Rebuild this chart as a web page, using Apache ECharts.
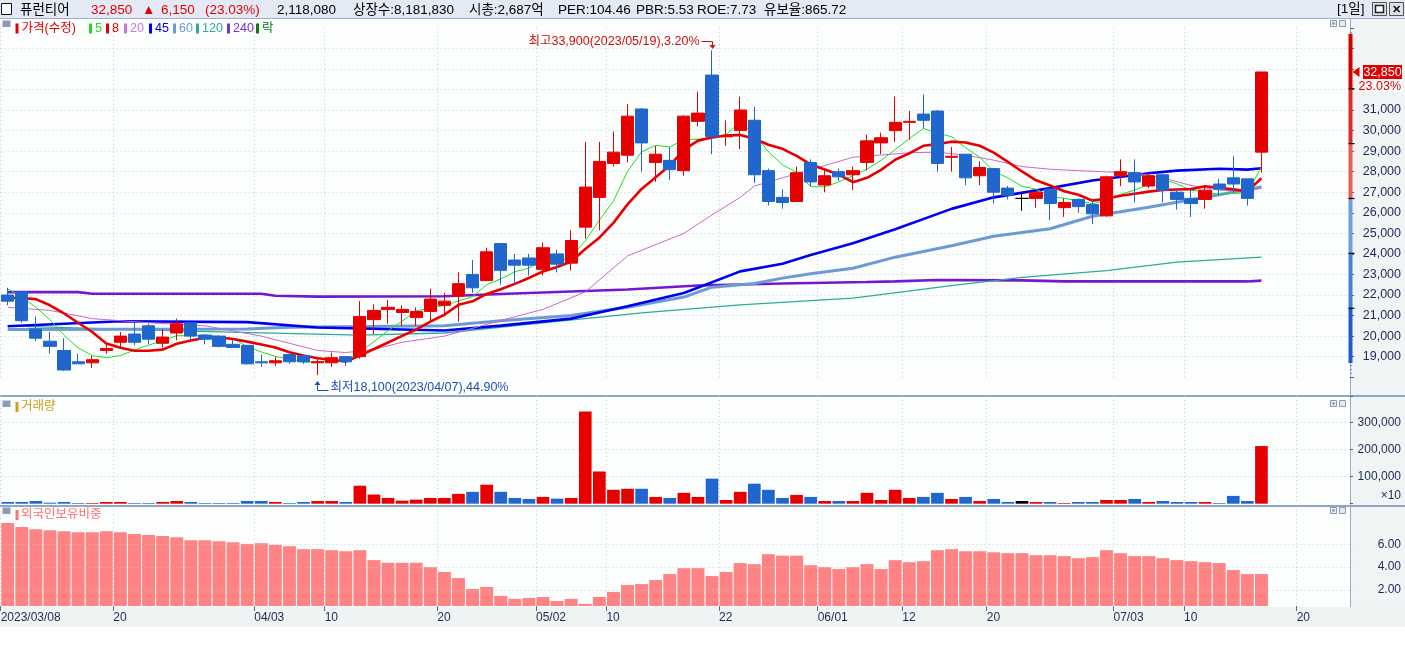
<!DOCTYPE html>
<html><head><meta charset="utf-8">
<script src="https://cdn.jsdelivr.net/npm/echarts/dist/echarts.min.js"></script>
<style>
html,body{margin:0;padding:0;background:#fff;width:1405px;height:648px;overflow:hidden}
.bg{position:absolute;box-sizing:border-box}
#chart{position:absolute;left:0;top:0;width:1405px;height:648px}
</style></head><body>
<div class="bg" style="left:0;top:0;width:1405px;height:19px;background:#E3EAF6;border-bottom:1px solid #9DAECB"></div>
<div class="bg" style="left:0;top:19px;width:1350px;height:376px;background:#FCFEFE"></div>
<div class="bg" style="left:1350px;top:19px;width:55px;height:588px;background:#F0F4F4"></div>
<div class="bg" style="left:0;top:395px;width:1405px;height:2px;background:#8FA6C6"></div>
<div class="bg" style="left:0;top:397px;width:1350px;height:108px;background:#FCFEFE"></div>
<div class="bg" style="left:0;top:505px;width:1405px;height:2px;background:#8FA6C6"></div>
<div class="bg" style="left:0;top:507px;width:1350px;height:99px;background:#FCFEFE"></div>
<div class="bg" style="left:0;top:607px;width:1405px;height:20px;background:#EEF3F3"></div>
<div class="bg" style="left:1350px;top:19px;width:1px;height:588px;background:#9AAAC4"></div>
<div id="chart"></div>
<script>
// ---------- DATA ----------
const dates = ['03/08','03/09','03/10','03/13','03/14','03/15','03/16','03/17','03/20','03/21','03/22','03/23','03/24','03/27','03/28','03/29','03/30','03/31',
'04/03','04/04','04/05','04/06','04/07','04/10','04/11','04/12','04/13','04/14','04/17','04/18','04/19','04/20','04/21','04/24','04/25','04/26','04/27','04/28',
'05/02','05/03','05/04','05/08','05/09','05/10','05/11','05/12','05/15','05/16','05/17','05/18','05/19','05/22','05/23','05/24','05/25','05/26','05/30','05/31',
'06/01','06/02','06/05','06/07','06/08','06/09','06/12','06/13','06/14','06/15','06/16','06/19','06/20','06/21','06/22','06/23','06/26','06/27','06/28','06/29','06/30',
'07/03','07/04','07/05','07/06','07/07','07/10','07/11','07/12','07/13','07/14','07/17',
'07/18','07/19','07/20','07/21','07/24','07/25'];
const xTickDates = ['03/08','03/20','04/03','04/10','04/20','05/02','05/10','05/22','06/01','06/12','06/20','07/03','07/10','07/20'];
const xTickLabels = ['2023/03/08','20','04/03','10','20','05/02','10','22','06/01','12','20','07/03','10','20'];

const opens = [22000,22150,20350,19750,19300,18750,18700,19300,19700,20100,
20500,19650,20150,20650,20050,20000,19600,19550,18750,18700,
19100,19050,18700,18700,19000,19000,20800,21300,21150,20900,
21200,21500,21950,23000,22700,24500,23700,23800,23250,24000,
23550,25300,26750,28400,28800,31050,28450,28550,28050,30450,
32700,29700,30000,30500,28050,26750,26550,28450,27350,28000,
27850,28450,29400,30000,30400,30800,30950,28700,28850,27800,
28150,27200,26700,26700,27150,26250,26650,26400,25850,27800,
27950,27300,27850,27000,26700,26650,27400,27700,27650,28950];
const highs = [22350,22150,20950,20200,19900,19150,19050,19600,20200,20750,
20600,20350,20850,20650,20100,20050,19850,19550,19100,19000,
19150,19050,18950,19200,19000,21700,21550,21750,21500,21400,
22300,22100,23100,23700,24300,24500,24000,24000,24550,24200,
25150,29450,29450,29950,31300,31100,29250,29200,30750,31900,
33900,30500,31650,31150,28150,27150,28250,28600,28150,28150,
28250,29800,29900,31650,30950,31750,31000,29200,28850,28500,
28150,27300,26950,27000,27300,26700,26700,26700,27800,28600,
28600,27900,27900,27200,27100,27250,27650,28750,27650,32850];
const lows = [21500,20650,19750,19150,18300,18650,18450,19150,19450,19550,
19600,19450,19800,19800,19600,19450,19450,18600,18500,18550,
18650,18650,18100,18500,18550,18900,20100,20600,20500,20500,
20700,21000,20700,22100,22700,22500,22500,22950,22950,23100,
23200,24750,25150,28250,28450,28000,27500,27600,27800,30200,
28850,29250,29100,27450,26350,26200,26550,27300,27000,27550,
27100,28050,28850,29450,29550,30100,28000,28000,27350,27350,
26450,26650,26100,26250,25650,25800,26000,25450,25800,27300,
26500,27200,26500,26150,25800,26200,26850,27000,26350,27950];
const closes = [21700,20750,19900,19500,18350,18650,18850,19400,20000,19700,
19850,19950,20600,20000,19850,19500,19450,18650,18700,18800,
18750,18750,18750,18950,18750,20950,21250,21400,21300,21200,
21800,21700,22550,22350,24100,23200,23450,23450,24300,23500,
24650,27250,28500,28950,30700,29400,28850,28100,30700,30850,
29700,29750,31000,27850,26550,26500,27950,27500,27800,27750,
28050,29500,29650,30400,30450,30500,28400,28750,27700,28200,
27000,26850,26700,27000,26450,26500,26300,25950,27750,28000,
27500,27800,27100,26650,26450,27100,27150,27400,26700,32850];
const volumes = [6250,6250,10000,3750,6250,2500,2500,6250,6250,2500,
2500,6250,10000,6250,2500,2500,2500,10000,10000,6250,
2500,6250,10000,10000,6250,66250,33750,21250,11250,15000,
21250,21250,36250,43750,70000,43750,21250,17500,25000,18750,
21250,340000,118750,51250,55000,55000,25000,21250,40000,25000,
92500,13750,43750,73750,51250,21250,32500,25000,10000,10000,
10000,40000,13750,51250,21250,25000,40000,17500,25000,10000,
17500,6250,10000,6250,6250,2500,6250,6250,13750,13750,
17500,6250,10000,6250,6250,6250,2500,28750,10000,212500];
const foreignRatio = [7.85,7.51,7.30,7.22,7.13,7.04,7.04,7.13,7.04,6.90,
6.81,6.72,6.61,6.35,6.35,6.26,6.17,6.03,6.09,5.94,
5.83,5.57,5.57,5.48,5.39,5.48,4.61,4.38,4.38,4.38,
4.00,3.57,3.04,2.09,2.26,1.48,1.22,1.30,1.39,1.04,
1.22,0.78,1.39,1.83,2.43,2.52,2.87,3.39,3.91,3.91,
3.22,3.57,4.35,4.26,5.13,5.00,5.00,4.17,4.00,3.83,
4.00,4.26,3.83,4.61,4.43,4.52,5.48,5.57,5.39,5.39,
5.30,5.22,5.22,5.04,5.04,4.96,4.78,4.87,5.48,5.22,
4.96,4.96,4.78,4.61,4.52,4.43,4.35,3.74,3.39,3.39];
const ma5 = [22300,21900,21400,20800,20040,19430,19050,18950,19050,19320,
19560,19780,20020,20020,20050,19980,19880,19490,19230,19020,
18870,18730,18750,18800,18790,19230,19730,20260,20730,21220,
21390,21480,21710,21920,22500,22780,23130,23310,23700,23580,
23870,24630,25640,26570,28010,28960,29280,29200,29550,29580,
29640,29820,30400,29830,28970,28330,27970,27270,27260,27500,
27810,28120,28550,29070,29610,30100,29880,29700,29160,28710,
28010,27700,27290,27150,26800,26700,26590,26440,26590,26900,
27100,27400,27630,27410,27100,27020,26890,26950,26960,28240];
const ma8 = [21850,21850,21800,21500,21100,20650,20200,19640,19430,19290,
19290,19340,19630,19790,19920,19930,19860,19730,19590,19440,
19210,19060,18920,18850,18760,19050,19370,19690,20010,20320,
20700,21040,21520,21690,22050,22280,22540,22830,23140,23360,
23630,24240,24790,25510,26410,27160,27730,28300,29060,29510,
29660,29760,29790,29600,29310,29110,28770,28350,28110,27860,
27490,27700,28090,28580,28890,29260,29340,29460,29420,29260,
28930,28480,28010,27580,27330,27050,26880,26590,26690,26830,
26930,27030,27110,27130,27150,27290,27220,27140,27040,27680];
const ma20Pts = [[0,21400],[3,21250],[6,20850],[10,20650],[14,20500],[18,20000],[22,19300],[24,19200],[26,19350],[28,19700],[31,20000],[35,20760],[38,21300],[41,22150],[44,23900],[48,25000],[50,25900],[52,26750],[53,27300],[55,27700],[57,28100],[60,28700],[64,28920],[66,28950],[68,28800],[70,28560],[72,28250],[74,28120],[76,28050],[78,27990],[80,27950],[82,27700],[84,27330],[86,27100],[88,27050],[89,27200]];
const ma45Pts = [[0,20480],[8,20720],[17,20680],[22,20420],[31,20270],[35,20510],[40,20850],[44,21450],[48,22100],[50,22620],[52,23150],[55,23520],[57,23950],[60,24520],[63,25200],[67,26190],[70,26750],[74,27200],[77,27570],[81,27920],[83,28050],[86,28140],[88,28100],[89,28170]];
const ma60Pts = [[0,20320],[17,20350],[20,20430],[31,20500],[35,20750],[40,21000],[44,21400],[48,21900],[50,22380],[53,22560],[55,22820],[57,23030],[60,23300],[63,23840],[67,24400],[70,24860],[74,25220],[77,25830],[81,26270],[85,26760],[89,27250]];
const ma120Pts = [[0,20500],[12,20250],[25,20050],[31,20150],[38,20640],[45,21130],[52,21520],[60,21850],[67,22460],[72,22860],[78,23190],[83,23600],[89,23840]];
const ma240Pts = [[0,22140],[5,22140],[6,22060],[18,22060],[19,21960],[22,21920],[31,21940],[35,22050],[44,22270],[49,22460],[55,22560],[61,22630],[63,22660],[66,22730],[72,22710],[75,22660],[88,22660],[89,22700]];
const headerTexts = ['퓨런티어','32,850','▲','6,150','(23.03%)','2,118,080','상장수:8,181,830','시총:2,687억','PER:104.46','PBR:5.53','ROE:7.73','유보율:865.72'];
const legendTexts = ['가격(수정)','5','8','20','45','60','120','240','락'];
const extremeNotes = ['최고33,900(2023/05/19),3.20%','최저18,100(2023/04/07),44.90%'];
const priceLabelRange = [19000, 31000];
const volumeLabelValues = [100000, 200000, 300000];
const foreignLabelValues = [2, 4, 6];

// ---------- STYLE / LAYOUT ----------
const UP = '#E60000', DOWN = '#2066CC';
const NUMF = '"Liberation Sans","Noto Sans CJK KR",sans-serif';
const AXC = '#1C2A55';
const GRIDC = '#C3CBD6';
const fmt = v => Math.round(v).toLocaleString('en-US');
const edges = dates.concat(['~']);
const isTick = i => xTickDates.indexOf(edges[i]) >= 0;

const candleData = opens.map((o, i) => {
  const item = { value: [o, closes[i], lows[i], highs[i]] };
  if (o === closes[i]) item.itemStyle = { color: '#000', color0: '#000', borderColor: '#000', borderColor0: '#000', borderColorDoji: '#000' };
  return item;
});
const volData = volumes.map((v, i) => ({
  value: v,
  itemStyle: { color: closes[i] > opens[i] ? UP : (closes[i] < opens[i] ? DOWN : '#000') }
}));

const bandAxis = g => ({ type: 'category', gridIndex: g, data: dates, boundaryGap: true,
  axisLine: { show: false }, axisTick: { show: false }, axisLabel: { show: false }, splitLine: { show: false } });
const edgeAxis = (g, lab) => ({ type: 'category', gridIndex: g, data: edges, boundaryGap: false, position: 'bottom',
  axisLine: { show: false },
  axisTick: { show: lab, interval: i => isTick(i), length: 5, lineStyle: { color: '#5B6B8C' } },
  axisLabel: { show: lab, interval: i => isTick(i), align: 'left', margin: 6, color: AXC, fontSize: 12, fontFamily: NUMF,
    formatter: (v) => { const k = xTickDates.indexOf(v); return k >= 0 ? xTickLabels[k] : ''; } },
  splitLine: { show: true, interval: i => isTick(i), lineStyle: { color: GRIDC, type: [1, 3], width: 1 } }
});

const lineS = (data, color, width, z) => ({ type: 'line', xAxisIndex: 0, yAxisIndex: 0, data: data, showSymbol: false, symbol: 'none',
  connectNulls: true, smooth: false, lineStyle: { color: color, width: width }, itemStyle: { color: color }, z: z, silent: true });

const option = {
  animation: false,
  backgroundColor: 'transparent',
  grid: [
    { left: 0.65, right: 52, top: 27.8, height: 349.4, outerBoundsMode: 'none' },
    { left: 0.65, right: 52, top: 396, height: 107.7, outerBoundsMode: 'none' },
    { left: 0.65, right: 52, top: 506.5, height: 99.5, outerBoundsMode: 'none' }
  ],
  xAxis: [bandAxis(0), bandAxis(1), bandAxis(2), edgeAxis(0, false), edgeAxis(1, false), edgeAxis(2, true)],
  yAxis: [
    { type: 'value', gridIndex: 0, position: 'right', offset: -3, min: 18000, max: 35000, interval: 1000,
      axisLine: { show: false },
      axisTick: { show: true, length: 4, lineStyle: { color: '#556070' } },
      minorTick: { show: true, splitNumber: 5, length: 2, lineStyle: { color: '#8090A8' } },
      axisLabel: { align: 'right', margin: 51, color: AXC, fontSize: 12.5, fontFamily: NUMF,
        formatter: v => (v >= priceLabelRange[0] && v <= priceLabelRange[1]) ? fmt(v) : '' },
      splitLine: { show: true, showMinLine: false, showMaxLine: false, lineStyle: { color: GRIDC, type: [1, 3] } } },
    { type: 'value', gridIndex: 1, position: 'right', offset: -3, min: 0, max: 397000, interval: 100000,
      axisLine: { show: false },
      axisTick: { show: true, length: 3, lineStyle: { color: '#556070' } },
      axisLabel: { align: 'right', margin: 51, color: AXC, fontSize: 12, fontFamily: NUMF,
        formatter: v => volumeLabelValues.indexOf(v) >= 0 ? fmt(v) : '' },
      splitLine: { show: true, showMinLine: false, showMaxLine: false, lineStyle: { color: GRIDC, type: [1, 3] } } },
    { type: 'value', gridIndex: 2, position: 'right', offset: -3, min: 0.6, max: 9.3, splitNumber: 4,
      axisLine: { show: false },
      axisTick: { show: false },
      axisLabel: { align: 'right', margin: 51, color: AXC, fontSize: 12, fontFamily: NUMF,
        formatter: v => foreignLabelValues.some(t => Math.abs(v - t) < 1e-6) ? v.toFixed(2) : '' },
      splitLine: { show: false } }
  ],
  series: [
    lineS(ma240Pts, '#7518CC', 2.6, 2),
    lineS(ma120Pts, '#2EAA98', 1.3, 2),
    lineS(ma60Pts, '#6C9BD2', 3, 2),
    lineS(ma45Pts, '#0000F0', 2.6, 2),
    lineS(ma20Pts, '#CC66CC', 1, 2),
    lineS(ma5, '#1EE01E', 1, 2),
    lineS(ma8, '#E80000', 2.6, 3),
    { type: 'candlestick', xAxisIndex: 0, yAxisIndex: 0, data: candleData, barWidth: '90%', z: 5, silent: true,
      itemStyle: { color: UP, color0: DOWN, borderColor: UP, borderColor0: DOWN, borderWidth: 1 } },
    { type: 'bar', xAxisIndex: 1, yAxisIndex: 1, data: volData, barWidth: '90%', clip: true, silent: true, z: 3 },
    { type: 'bar', xAxisIndex: 2, yAxisIndex: 2, data: foreignRatio, barWidth: '92%', clip: true, silent: true, z: 3,
      itemStyle: { color: '#FF8383' },
      markLine: { silent: true, symbol: 'none', label: { show: false }, animation: false,
        lineStyle: { color: GRIDC, type: [1, 3], width: 1 },
        data: foreignLabelValues.map(v => ({ yAxis: v })) } }
  ]
};

const chart = echarts.init(document.getElementById('chart'));
chart.setOption(option);

// ---------- OVERLAY TEXT & DECORATION ----------
const px = i => chart.convertToPixel({ xAxisIndex: 0 }, i);
const py = v => chart.convertToPixel({ yAxisIndex: 0 }, v);
const G = [];
const T = (text, x, y, fill, size, align, weight) => G.push({ type: 'text', z: 60, x: x, y: y,
  style: { text: text, fill: fill, font: (weight || 'normal') + ' ' + size + 'px ' + NUMF, textAlign: align || 'left',
    textVerticalAlign: 'middle', verticalAlign: 'middle' } });
const R = (x, y, w, h, fill, stroke, lw) => G.push({ type: 'rect', z: 55, shape: { x: x, y: y, width: w, height: h },
  style: { fill: fill || 'none', stroke: stroke || null, lineWidth: lw || 1 } });

// header
R(1.5, 3.5, 10, 11, '#fff', '#111', 1);
const headerX = [20, 91, 142, 161, 205, 277, 353, 469, 558, 636, 697, 764];
const headerC = ['#000', '#E00000', '#E00000', '#E00000', '#E00000', '#000', '#000', '#000', '#000', '#000', '#000', '#000'];
headerTexts.forEach((t, i) => T(t, headerX[i], 10, headerC[i], 13.5));
T('[1일]', 1337, 9.5, '#000', 13.5);
R(1372.5, 2.5, 14, 13, '#DCE1EA', '#555', 1);
R(1375.5, 5.5, 8, 7, '#fff', '#222', 1.5);
R(1389.5, 2.5, 14, 13, '#DCE1EA', '#555', 1);
T('✕', 1396.5, 9.5, '#111', 11, 'center', 'bold');

// pane icons and pane buttons
[[20.5], [400.5], [507.5]].forEach(a => {
  R(2.5, a[0], 8, 6.5, '#8A9CB8', null);
  R(1330.5, a[0], 6, 6, '#E6EAF0', '#8A9AB5', 1);
  R(1332.5, a[0] + 2, 2, 2, '#6A7A95', null);
  R(1339.5, a[0], 6, 6, '#E6EAF0', '#8A9AB5', 1);
});

// price legend
const legBarX = [15.5, 89, 106, 124, 149, 173, 196, 227, 256];
const legColor = ['#E00000', '#22DD22', '#E00000', '#CC77DD', '#0000EE', '#6F9CD2', '#33AA99', '#7B2FD0', '#0B7A0B'];
legendTexts.forEach((t, i) => {
  R(legBarX[i], 23.5, 3, 10, legColor[i], null);
  T(t, legBarX[i] + 6, 28.5, legColor[i], 12.5);
});
// volume / foreign legends
R(15.5, 402, 3, 10, '#C9A21A', null);
T('거래량', 21, 407, '#C9A21A', 12.5);
R(15.5, 510, 3, 10, '#FF7070', null);
T('외국인보유비중', 21, 515, '#FF7070', 12.5);
T('×10', 1401, 496, AXC, 12, 'right');

// price-limit band on the axis
const prev = closes[closes.length - 2];
const steps = [1.3, 1.2, 1.1, 1.0, 0.9, 0.8, 0.7];
const bandColors = ['#D40000', '#E02A2A', '#E85C5C', '#6E9EE0', '#4A7FD6', '#1F5CC8'];
for (let k = 0; k < 6; k++) {
  const y1 = py(prev * steps[k]), y2 = py(prev * steps[k + 1]);
  R(1348.5, y1, 4, y2 - y1, bandColors[k], null);
}
for (let k = 1; k < 6; k++) R(1348.5, py(prev * steps[k]) - 0.5, 6, 1.2, '#000', null);

// last price tag
const last = closes[closes.length - 1];
const ly = py(last);
G.push({ type: 'polygon', z: 60, shape: { points: [[1352.5, ly], [1359.5, ly - 5], [1359.5, ly + 5]] }, style: { fill: '#E00000' } });
R(1363, ly - 7, 39, 14, '#E00000', null);
T(fmt(last), 1382.5, ly + 0.5, '#fff', 12.5, 'center');
R(1363, ly + 8, 39, 12, '#fff', null);
T(((last - prev) / prev * 100).toFixed(2) + '%', 1401, ly + 14.5, '#E00000', 12.5, 'right');

// high / low annotations
let hi = 0, lo = 0;
highs.forEach((h, i) => { if (h > highs[hi]) hi = i; });
lows.forEach((l, i) => { if (l < lows[lo]) lo = i; });
const hx = Math.round(px(hi)) + 0.5;
G.push({ type: 'polyline', z: 60, shape: { points: [[hx - 11, 41.5], [hx, 41.5], [hx, 46]] }, style: { stroke: '#D01010', lineWidth: 1, fill: null } });
G.push({ type: 'polygon', z: 60, shape: { points: [[hx - 3, 45], [hx + 3, 45], [hx, 49]] }, style: { fill: '#D01010' } });
T(extremeNotes[0], hx - 13, 42, '#D01010', 12.5, 'right');
const lx = Math.round(px(lo)) - 0.5;
G.push({ type: 'polyline', z: 60, shape: { points: [[lx, 384], [lx, 390.5], [lx + 11, 390.5]] }, style: { stroke: '#1E50B4', lineWidth: 1, fill: null } });
G.push({ type: 'polygon', z: 60, shape: { points: [[lx - 3, 385], [lx + 3, 385], [lx, 381]] }, style: { fill: '#1E50B4' } });
T(extremeNotes[1], lx + 13, 387.5, '#1E50B4', 12.5, 'left');

chart.setOption({ graphic: { elements: G } });
</script></body></html>
